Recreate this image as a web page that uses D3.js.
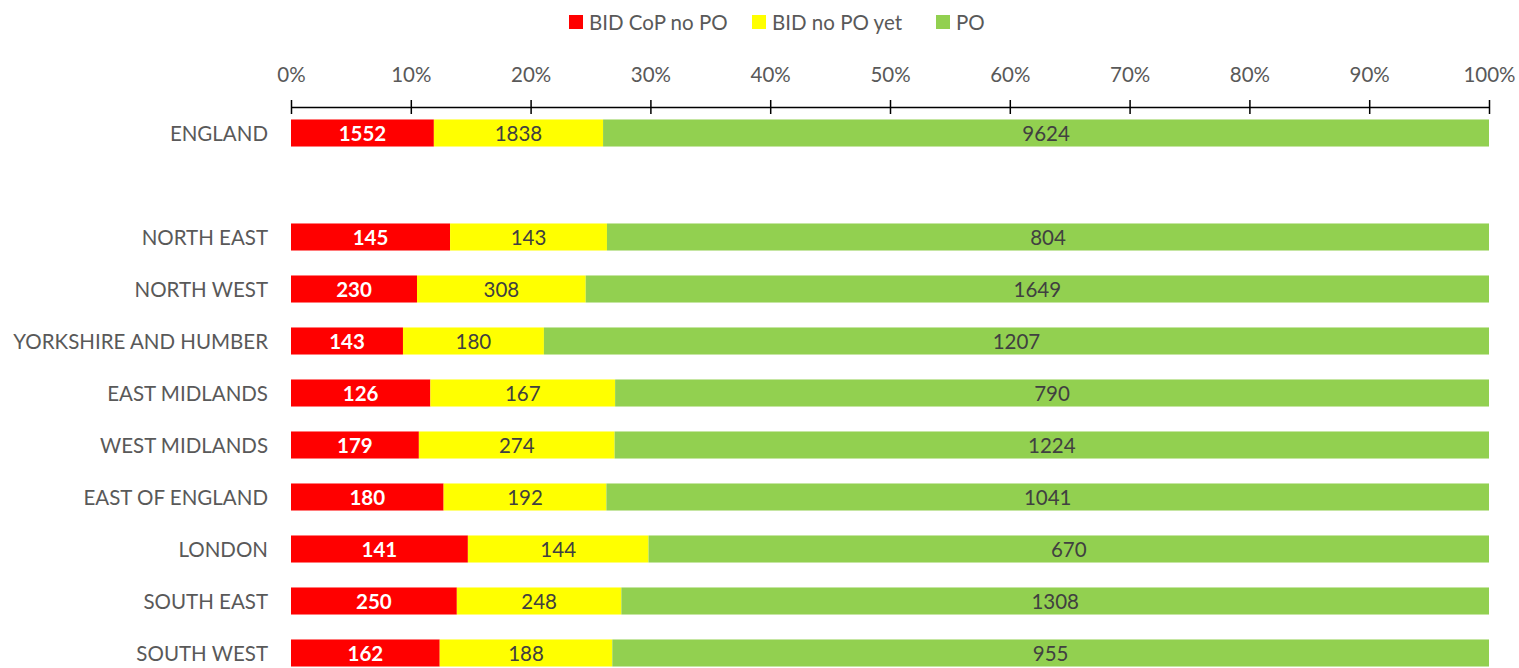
<!DOCTYPE html>
<html>
<head>
<meta charset="utf-8">
<script src="https://cdn.jsdelivr.net/npm/d3@7"></script>
<style>
  body { margin: 0; background: #fff; }
  text { font-family: Lato, "Open Sans", sans-serif; }
</style>
</head>
<body>
<svg id="chart" width="1519" height="668"></svg>
<script>
// categories (blank slot separates England from the regions)
let regions = ["ENGLAND", "", "NORTH EAST", "NORTH WEST", "YORKSHIRE AND HUMBER",
  "EAST MIDLANDS", "WEST MIDLANDS", "EAST OF ENGLAND", "LONDON", "SOUTH EAST", "SOUTH WEST"]

let bidCop = [1552, null, 145, 230, 143, 126, 179, 180, 141, 250, 162]
let bidNoPo = [1838, null, 143, 308, 180, 167, 274, 192, 144, 248, 188]
let po = [9624, null, 804, 1649, 1207, 790, 1224, 1041, 670, 1308, 955]

let seriesNames = ["BID CoP no PO", "BID no PO yet", "PO"]
let seriesColors = ["#ff0000", "#ffff00", "#92d050"]
let tickValues = [0, 0.1, 0.2, 0.3, 0.4, 0.5, 0.6, 0.7, 0.8, 0.9, 1]

let svg = d3.select("#chart")

let x = d3.scaleLinear().domain([0, 1]).range([291, 1489])
let y = d3.scaleBand()
    .domain(regions.map((d, i) => "r" + i))
    .range([107, 107 + 11 * 52])
    .paddingInner(0.48)
    .paddingOuter(0.24)

// build rows of shares
let rows = []
regions.forEach((name, i) => {
  if (bidCop[i] == null) return;
  let vals = [bidCop[i], bidNoPo[i], po[i]]
  let total = d3.sum(vals)
  let start = 0
  vals.forEach((v, k) => {
    rows.push({ key: "r" + i, k: k, v: v, x0: start / total, x1: (start + v) / total })
    start += v
  })
})

// axis on top
let axis = d3.axisTop(x)
    .tickValues(tickValues)
    .tickFormat(d3.format(".0%"))
    .tickSizeInner(7)
    .tickSizeOuter(0)
    .tickPadding(18)

let ax = svg.append("g")
    .attr("transform", "translate(0,107)")
    .call(axis)
ax.select(".domain").attr("stroke", "#000").attr("stroke-width", 1.5)
ax.selectAll(".tick line").attr("y2", 7).attr("y1", -7).attr("stroke", "#000").attr("stroke-width", 1.5)
ax.selectAll(".tick text")
    .attr("font-size", 20.5)
    .attr("fill", "#595959")
    .style("font-family", "Lato, sans-serif")

// bars
svg.append("g").selectAll("rect")
    .data(rows)
    .enter().append("rect")
    .attr("x", d => x(d.x0))
    .attr("y", d => y(d.key))
    .attr("width", d => x(d.x1) - x(d.x0))
    .attr("height", y.bandwidth())
    .attr("fill", d => seriesColors[d.k])

// data labels
svg.append("g").selectAll("text")
    .data(rows)
    .enter().append("text")
    .attr("x", d => (x(d.x0) + x(d.x1)) / 2)
    .attr("y", d => y(d.key) + y.bandwidth() / 2 + 1)
    .attr("dy", "0.36em")
    .attr("text-anchor", "middle")
    .attr("font-size", 20.5)
    .attr("font-weight", d => d.k == 0 ? "bold" : "normal")
    .attr("fill", d => d.k == 0 ? "#ffffff" : "#404040")
    .text(d => d.v)

// category labels
svg.append("g").selectAll("text")
    .data(regions.map((d, i) => ({ name: d, key: "r" + i })).filter(d => d.name != ""))
    .enter().append("text")
    .attr("x", 268)
    .attr("y", d => y(d.key) + y.bandwidth() / 2 + 1)
    .attr("dy", "0.36em")
    .attr("text-anchor", "end")
    .attr("font-size", 20.5)
    .attr("fill", "#595959")
    .text(d => d.name)

// legend
let legendX = [569, 752, 936]
let legend = svg.append("g").selectAll("g")
    .data(seriesNames)
    .enter().append("g")
    .attr("transform", (d, i) => "translate(" + legendX[i] + ",15)")
legend.append("rect")
    .attr("width", 14)
    .attr("height", 14)
    .attr("fill", (d, i) => seriesColors[i])
legend.append("text")
    .attr("x", 20)
    .attr("y", 8)
    .attr("dy", "0.36em")
    .attr("font-size", 20.5)
    .attr("fill", "#595959")
    .text(d => d)
</script>
</body>
</html>
